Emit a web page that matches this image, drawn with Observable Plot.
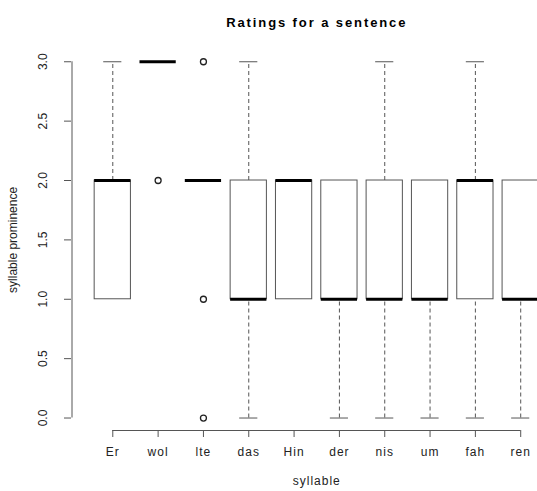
<!DOCTYPE html>
<html>
<head>
<meta charset="utf-8">
<script src="https://cdn.jsdelivr.net/npm/d3@7"></script>
<script src="https://cdn.jsdelivr.net/npm/@observablehq/plot@0.6"></script>
<style>
  html, body { margin: 0; padding: 0; background: white; overflow: hidden; }
  #chart svg { overflow: hidden; }
  #chart svg text { letter-spacing: 1px; }
</style>
</head>
<body>
<div id="chart"></div>
<script>
// ---- data ----
const syllables = ["Er", "wol", "lte", "das", "Hin", "der", "nis", "um", "fah", "ren"];
const whiskerLow  = [1, 3, 2, 0, 1, 0, 0, 0, 0, 0];
const quart1      = [1, 3, 2, 1, 1, 1, 1, 1, 1, 1];
const medians     = [2, 3, 2, 1, 2, 1, 1, 1, 2, 1];
const quart3      = [2, 3, 2, 2, 2, 2, 2, 2, 2, 2];
const whiskerHigh = [3, 3, 2, 3, 2, 2, 3, 2, 3, 2];
const outlierSyllables = ["wol", "lte", "lte", "lte"];
const outlierValues    = [2, 3, 1, 0];
const yTicks = [0, 0.5, 1, 1.5, 2, 2.5, 3];
const title = "Ratings for a sentence";
const xLabel = "syllable";
const yLabel = "syllable prominence";

// ---- tables built from the arrays ----
const rows = syllables.map((s, i) => ({
  syllable: s, pos: i + 1,
  lo: whiskerLow[i], q1: quart1[i], med: medians[i], q3: quart3[i], hi: whiskerHigh[i]
}));
const outliers = outlierSyllables.map((s, i) => ({pos: syllables.indexOf(s) + 1, value: outlierValues[i]}));

const n = syllables.length;
const xDomain = [0.5 - 0.04 * n, n + 0.5 + 0.04 * n];
const yDomain = [-0.105, 3.12];
const boxHalf = 0.4, capHalf = 0.2;
const line = "#555";
const font = "Liberation Sans, Arial, Helvetica, sans-serif";
const mid = (n + 1) / 2;

const chart = Plot.plot({
  width: 537,
  height: 491,
  marginLeft: 71,
  marginRight: 0,
  marginTop: 47,
  marginBottom: 61,
  style: {fontFamily: font, fontSize: "12px", background: "white", color: "#222"},
  x: {domain: xDomain, range: [71.5, 561], axis: null, label: null},
  y: {domain: yDomain, axis: null, label: null},
  marks: [
    // axes
    Plot.ruleX([xDomain[0]], {y1: yTicks[0], y2: yTicks[yTicks.length - 1], stroke: line}),
    Plot.ruleY([yDomain[0]], {x1: 1, x2: n, stroke: line}),
    Plot.axisY({ticks: yTicks, tickSize: 7, tickFormat: () => "", stroke: line, label: null}),
    Plot.text(yTicks, {x: xDomain[0], y: d => d, text: d => d3.format(".1f")(d), dx: -28.5, rotate: -90,
      fontSize: 12, fill: "#222"}),
    Plot.axisX({ticks: d3.range(1, n + 1), tickSize: 7, tickPadding: 10, stroke: line, label: null,
      tickFormat: d => syllables[d - 1], fontSize: 12, fill: "#222"}),
    // whiskers
    Plot.ruleX(rows.filter(d => d.hi > d.q3), {x: "pos", y1: "q3", y2: "hi", stroke: line, strokeDasharray: "4,3"}),
    Plot.ruleX(rows.filter(d => d.lo < d.q1), {x: "pos", y1: "lo", y2: "q1", stroke: line, strokeDasharray: "4,3"}),
    Plot.ruleY(rows.filter(d => d.hi > d.q3), {y: "hi", x1: d => d.pos - capHalf, x2: d => d.pos + capHalf, stroke: line}),
    Plot.ruleY(rows.filter(d => d.lo < d.q1), {y: "lo", x1: d => d.pos - capHalf, x2: d => d.pos + capHalf, stroke: line}),
    // boxes
    Plot.rect(rows, {x1: d => d.pos - boxHalf, x2: d => d.pos + boxHalf, y1: "q1", y2: "q3", fill: "white", stroke: line}),
    // medians
    Plot.ruleY(rows, {y: "med", x1: d => d.pos - boxHalf, x2: d => d.pos + boxHalf, stroke: "black", strokeWidth: 3}),
    // outliers
    Plot.dot(outliers, {x: "pos", y: "value", r: 3, stroke: "#222", strokeWidth: 1.3, fill: "none"}),
    // titles
    Plot.text([title], {x: mid, frameAnchor: "top", dy: -30, text: d => d, fontSize: 13, fontWeight: "bold",
      fill: "black"}),
    Plot.text([xLabel], {x: mid, frameAnchor: "bottom", dy: 54, text: d => d, fontSize: 12, fill: "#222"}),
    Plot.text([yLabel], {y: (yTicks[0] + yTicks[yTicks.length - 1]) / 2, frameAnchor: "left", dx: -58, rotate: -90,
      textAnchor: "middle", text: d => d, fontSize: 12, fill: "#222"})
  ]
});
const svgText = d3.select(chart).selectAll("text");
svgText.filter(function () { return this.textContent === title; }).style("letter-spacing", "1.9px");
svgText.filter(function () { return this.textContent === yLabel || /^\d\.\d$/.test(this.textContent); })
  .style("letter-spacing", "0px");
document.getElementById("chart").appendChild(chart);
</script>
</body>
</html>
